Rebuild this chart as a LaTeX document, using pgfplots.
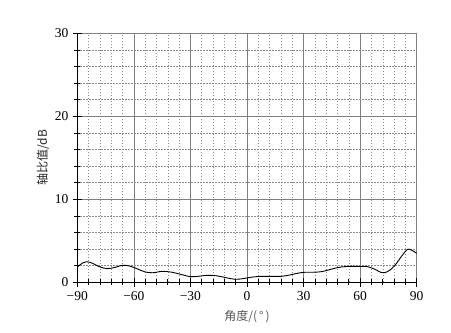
\documentclass[border=0pt]{standalone}
\usepackage{pgfplots}
\pgfplotsset{compat=1.18}
\usepackage{fontspec}
\setmainfont{Liberation Serif}
\newfontfamily\cjk{Noto Sans CJK SC}
\begin{document}
\begin{tikzpicture}
\begin{axis}[
  scale only axis,
  width=339.4pt, height=249pt,
  xmin=-90, xmax=90, ymin=0, ymax=30,
  xtick={-90,-60,...,90}, ytick={0,10,20,30},
  xticklabels={−90,−60,−30,0,30,60,90},
  minor x tick num=4, minor y tick num=4,
  axis lines*=left,
  axis line style={black, line width=1pt},
  tick align=center,
  major tick length=9pt, minor tick length=6pt,
  tick style={black, line width=0.7pt},
  grid=both,
  major grid style={black!50, line width=0.7pt},
  minor grid style={black!45, dash pattern=on 1.2pt off 1.8pt, line width=0.5pt},
  /pgf/number format/assume math mode=true,
  ticklabel style={font=\fontsize{13.5}{15}\selectfont},
  xticklabel style={yshift=-1pt},
  yticklabel style={xshift=-1pt},
  yticklabel={\pgfmathprintnumber{\tick}},
  xlabel={\cjk 角度/(\,°\,)},
  ylabel={\cjk 轴比值/dB},
  xlabel style={font=\fontsize{12}{14}\selectfont, text=black!65, yshift=-3pt},
  ylabel style={font=\fontsize{12}{14}\selectfont, text=black!85, yshift=-1pt},
  clip=false,
]
\addplot[black, line width=0.9pt, smooth, tension=0.55] coordinates {
(-90,1.85) (-87,2.35) (-85,2.48) (-82,2.3) (-78,1.85) (-74,1.65) (-70,1.8)
(-66,2.05) (-62,1.95) (-58,1.6) (-54,1.25) (-50,1.15) (-45,1.32) (-40,1.22)
(-35,0.95) (-30,0.68) (-26,0.72) (-21,0.84) (-16,0.78) (-11,0.55) (-6,0.36)
(-2,0.45) (2,0.6) (6,0.7) (12,0.72) (18,0.72) (22,0.85) (26,1.05) (30,1.2)
(36,1.22) (40,1.3) (45,1.6) (50,1.85) (55,1.92) (60,1.92) (64,1.88)
(68,1.55) (71,1.2) (73,1.15) (76,1.5) (79,2.2) (82,3.15) (85,3.95) (87,3.9) (90,3.5)
};
\end{axis}
\path ([shift={(-77.3pt,-49.7pt)}]current axis.south west) rectangle ([shift={(34.3pt,33.3pt)}]current axis.north east);
\end{tikzpicture}
\end{document}
